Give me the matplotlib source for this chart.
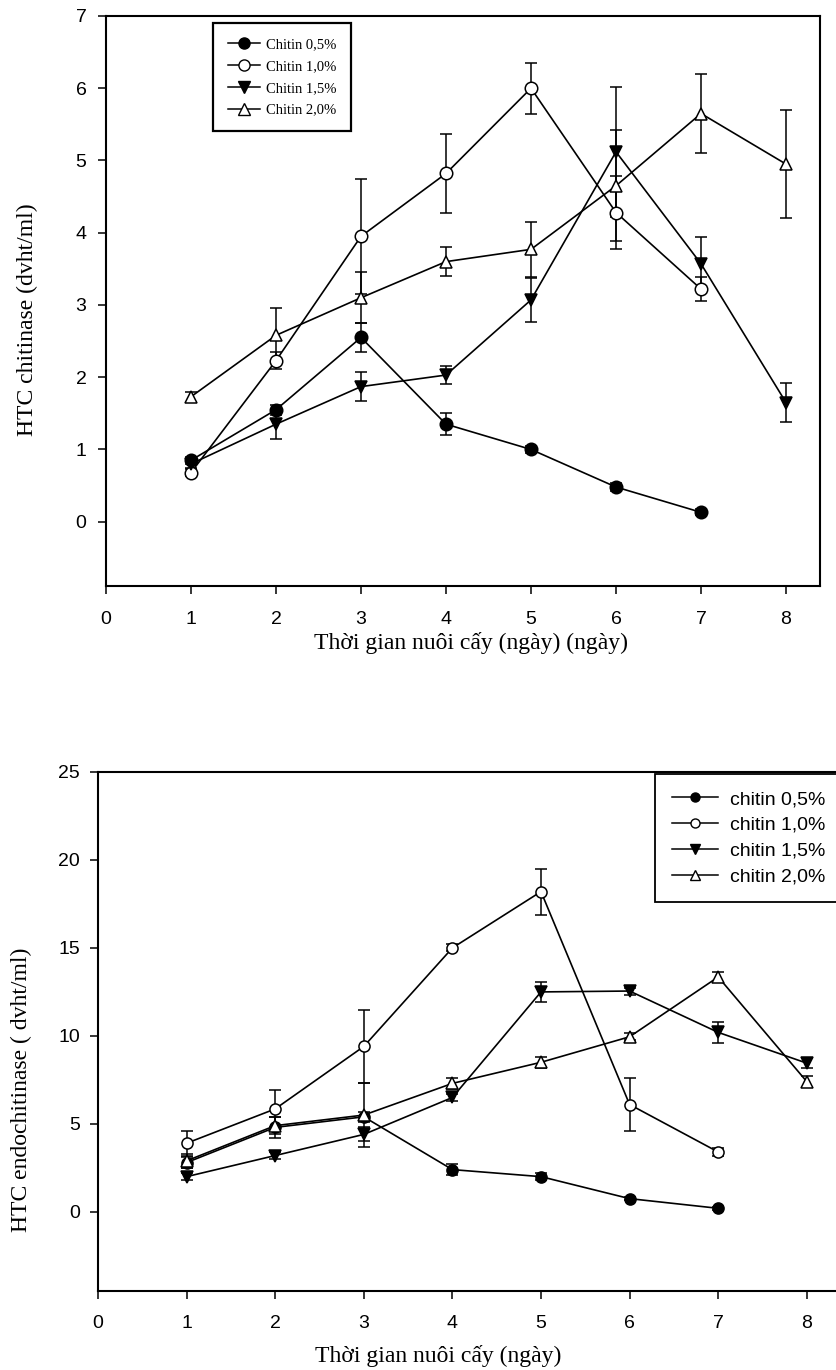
import numpy as np
import matplotlib
matplotlib.use('Agg')
import matplotlib.pyplot as plt
from matplotlib.lines import Line2D

# ---- data ----
days = [1, 2, 3, 4, 5, 6, 7, 8]

# top panel : HTC chitinase
top_labels = ['Chitin 0,5%', 'Chitin 1,0%', 'Chitin 1,5%', 'Chitin 2,0%']
top_c05 = [0.85, 1.55, 2.55, 1.35, 1.00, 0.48, 0.13]
top_c05_err = [0.05, 0.07, 0.20, 0.15, 0.05, 0.05, 0.04]
top_c10 = [0.68, 2.23, 3.95, 4.82, 6.00, 4.28, 3.22]
top_c10_err = [0.05, 0.12, 0.80, 0.55, 0.35, 0.50, 0.17]
top_c15 = [0.80, 1.35, 1.87, 2.03, 3.07, 5.12, 3.57, 1.65]
top_c15_err = [0.05, 0.20, 0.20, 0.12, 0.30, 0.90, 0.37, 0.27]
top_c20 = [1.73, 2.58, 3.10, 3.60, 3.77, 4.65, 5.65, 4.95]
top_c20_err = [0.07, 0.38, 0.35, 0.20, 0.38, 0.77, 0.55, 0.75]

# bottom panel : HTC endochitinase
bot_labels = ['chitin 0,5%', 'chitin 1,0%', 'chitin 1,5%', 'chitin 2,0%']
bot_c05 = [2.8, 4.8, 5.4, 2.4, 2.0, 0.75, 0.2]
bot_c05_err = [0.3, 0.6, 0.3, 0.3, 0.2, 0.1, 0.1]
bot_c10 = [3.9, 5.85, 9.4, 15.0, 18.2, 6.1, 3.4]
bot_c10_err = [0.7, 1.05, 2.1, 0.2, 1.3, 1.5, 0.2]
bot_c15 = [2.0, 3.2, 4.4, 6.5, 12.5, 12.55, 10.2, 8.45]
bot_c15_err = [0.2, 0.2, 0.4, 0.2, 0.55, 0.2, 0.6, 0.3]
bot_c20 = [2.9, 4.9, 5.5, 7.3, 8.5, 9.95, 13.35, 7.4]
bot_c20_err = [0.4, 0.5, 1.8, 0.3, 0.3, 0.2, 0.3, 0.3]

SERIF = ['Liberation Serif', 'DejaVu Serif']
SANS = ['Liberation Sans', 'DejaVu Sans']

# marker style per series: (marker, facecolor)
styles = [('o', 'black'), ('o', 'white'), ('v', 'black'), ('^', 'white')]

fig = plt.figure(figsize=(8.36, 13.7), dpi=100)


def draw_panel(ax, series, errs, ms):
    for (y, e, (mk, fc)) in zip(series, errs, styles):
        x = days[:len(y)]
        ax.errorbar(x, y, yerr=e, color='black', lw=1.2, elinewidth=1.1,
                    capsize=4, capthick=1.1, marker=mk, ms=ms,
                    mfc=fc, mec='black', mew=1.1)
    for s in ax.spines.values():
        s.set_linewidth(1.5)
    ax.tick_params(axis='both', which='both', direction='out', length=6,
                   width=1.1, labelsize=14, top=False, right=False)


def legend_handles(ms):
    # simple line+marker proxies (no error bar in the key)
    return [Line2D([], [], color='black', lw=1.1, marker=mk, ms=ms,
                   mfc=fc, mec='black', mew=1.0) for mk, fc in styles]


# ===== top chart =====
ax1 = fig.add_axes([106/836, 1-586/1370, (820-106)/836, (586-16)/1370])
draw_panel(ax1, [top_c05, top_c10, top_c15, top_c20],
           [top_c05_err, top_c10_err, top_c15_err, top_c20_err], 9)
ax1.set_xlim(0, 8.4)
ax1.set_ylim(-0.89, 7)
ax1.set_xticks(range(0, 9))
ax1.set_yticks(range(0, 8))
ax1.tick_params(axis='x', pad=12)
ax1.tick_params(axis='y', pad=8)
for t in ax1.get_xticklabels() + ax1.get_yticklabels():
    t.set_fontfamily(SANS)
ax1.set_xlabel('Thời gian nuôi cấy (ngày) (ngày)', fontfamily=SERIF,
               fontsize=17)
ax1.set_ylabel('HTC chitinase (dvht/ml)', fontfamily=SERIF, fontsize=17)
ax1.xaxis.set_label_coords(0.511, -0.08)
ax1.yaxis.set_label_coords(-0.095, 0.467)
leg1 = ax1.legend(legend_handles(8), top_labels, loc='upper left',
                  bbox_to_anchor=(213/836, 1-23/1370),
                  bbox_transform=fig.transFigure, frameon=True, fancybox=False,
                  edgecolor='black', framealpha=1,
                  prop={'family': SERIF, 'size': 10.5},
                  handlelength=2.2, handletextpad=0.45, borderpad=1.0,
                  labelspacing=0.6, borderaxespad=0)
leg1.get_frame().set_linewidth(1.6)

# ===== bottom chart =====
ax2 = fig.add_axes([98/836, 1-1291/1370, 8.5*88.6/836, (1291-772)/1370])
draw_panel(ax2, [bot_c05, bot_c10, bot_c15, bot_c20],
           [bot_c05_err, bot_c10_err, bot_c15_err, bot_c20_err], 8)
ax2.set_xlim(0, 8.5)
ax2.set_ylim(-4.5, 25)
ax2.set_xticks(range(0, 9))
ax2.set_yticks(range(0, 26, 5))
ax2.tick_params(axis='x', pad=11)
ax2.tick_params(axis='y', pad=7)
for t in ax2.get_xticklabels() + ax2.get_yticklabels():
    t.set_fontfamily(SANS)
ax2.set_xlabel('Thời gian nuôi cấy (ngày)', fontfamily=SERIF, fontsize=17)
ax2.set_ylabel('HTC endochitinase ( dvht/ml)', fontfamily=SERIF, fontsize=17)
ax2.xaxis.set_label_coords(0.4515, -0.105)
ax2.yaxis.set_label_coords(-0.088, 0.387)
leg2 = ax2.legend(legend_handles(6.5), bot_labels, loc='upper left',
                  bbox_to_anchor=(655/836, 1-774/1370),
                  bbox_transform=fig.transFigure, frameon=True, fancybox=False,
                  edgecolor='black', framealpha=1,
                  prop={'family': SANS, 'size': 14},
                  handlelength=2.4, handletextpad=0.6, borderpad=0.85,
                  labelspacing=0.42, borderaxespad=0)
leg2.get_frame().set_linewidth(1.3)

fig.savefig('out.png', dpi=100)
